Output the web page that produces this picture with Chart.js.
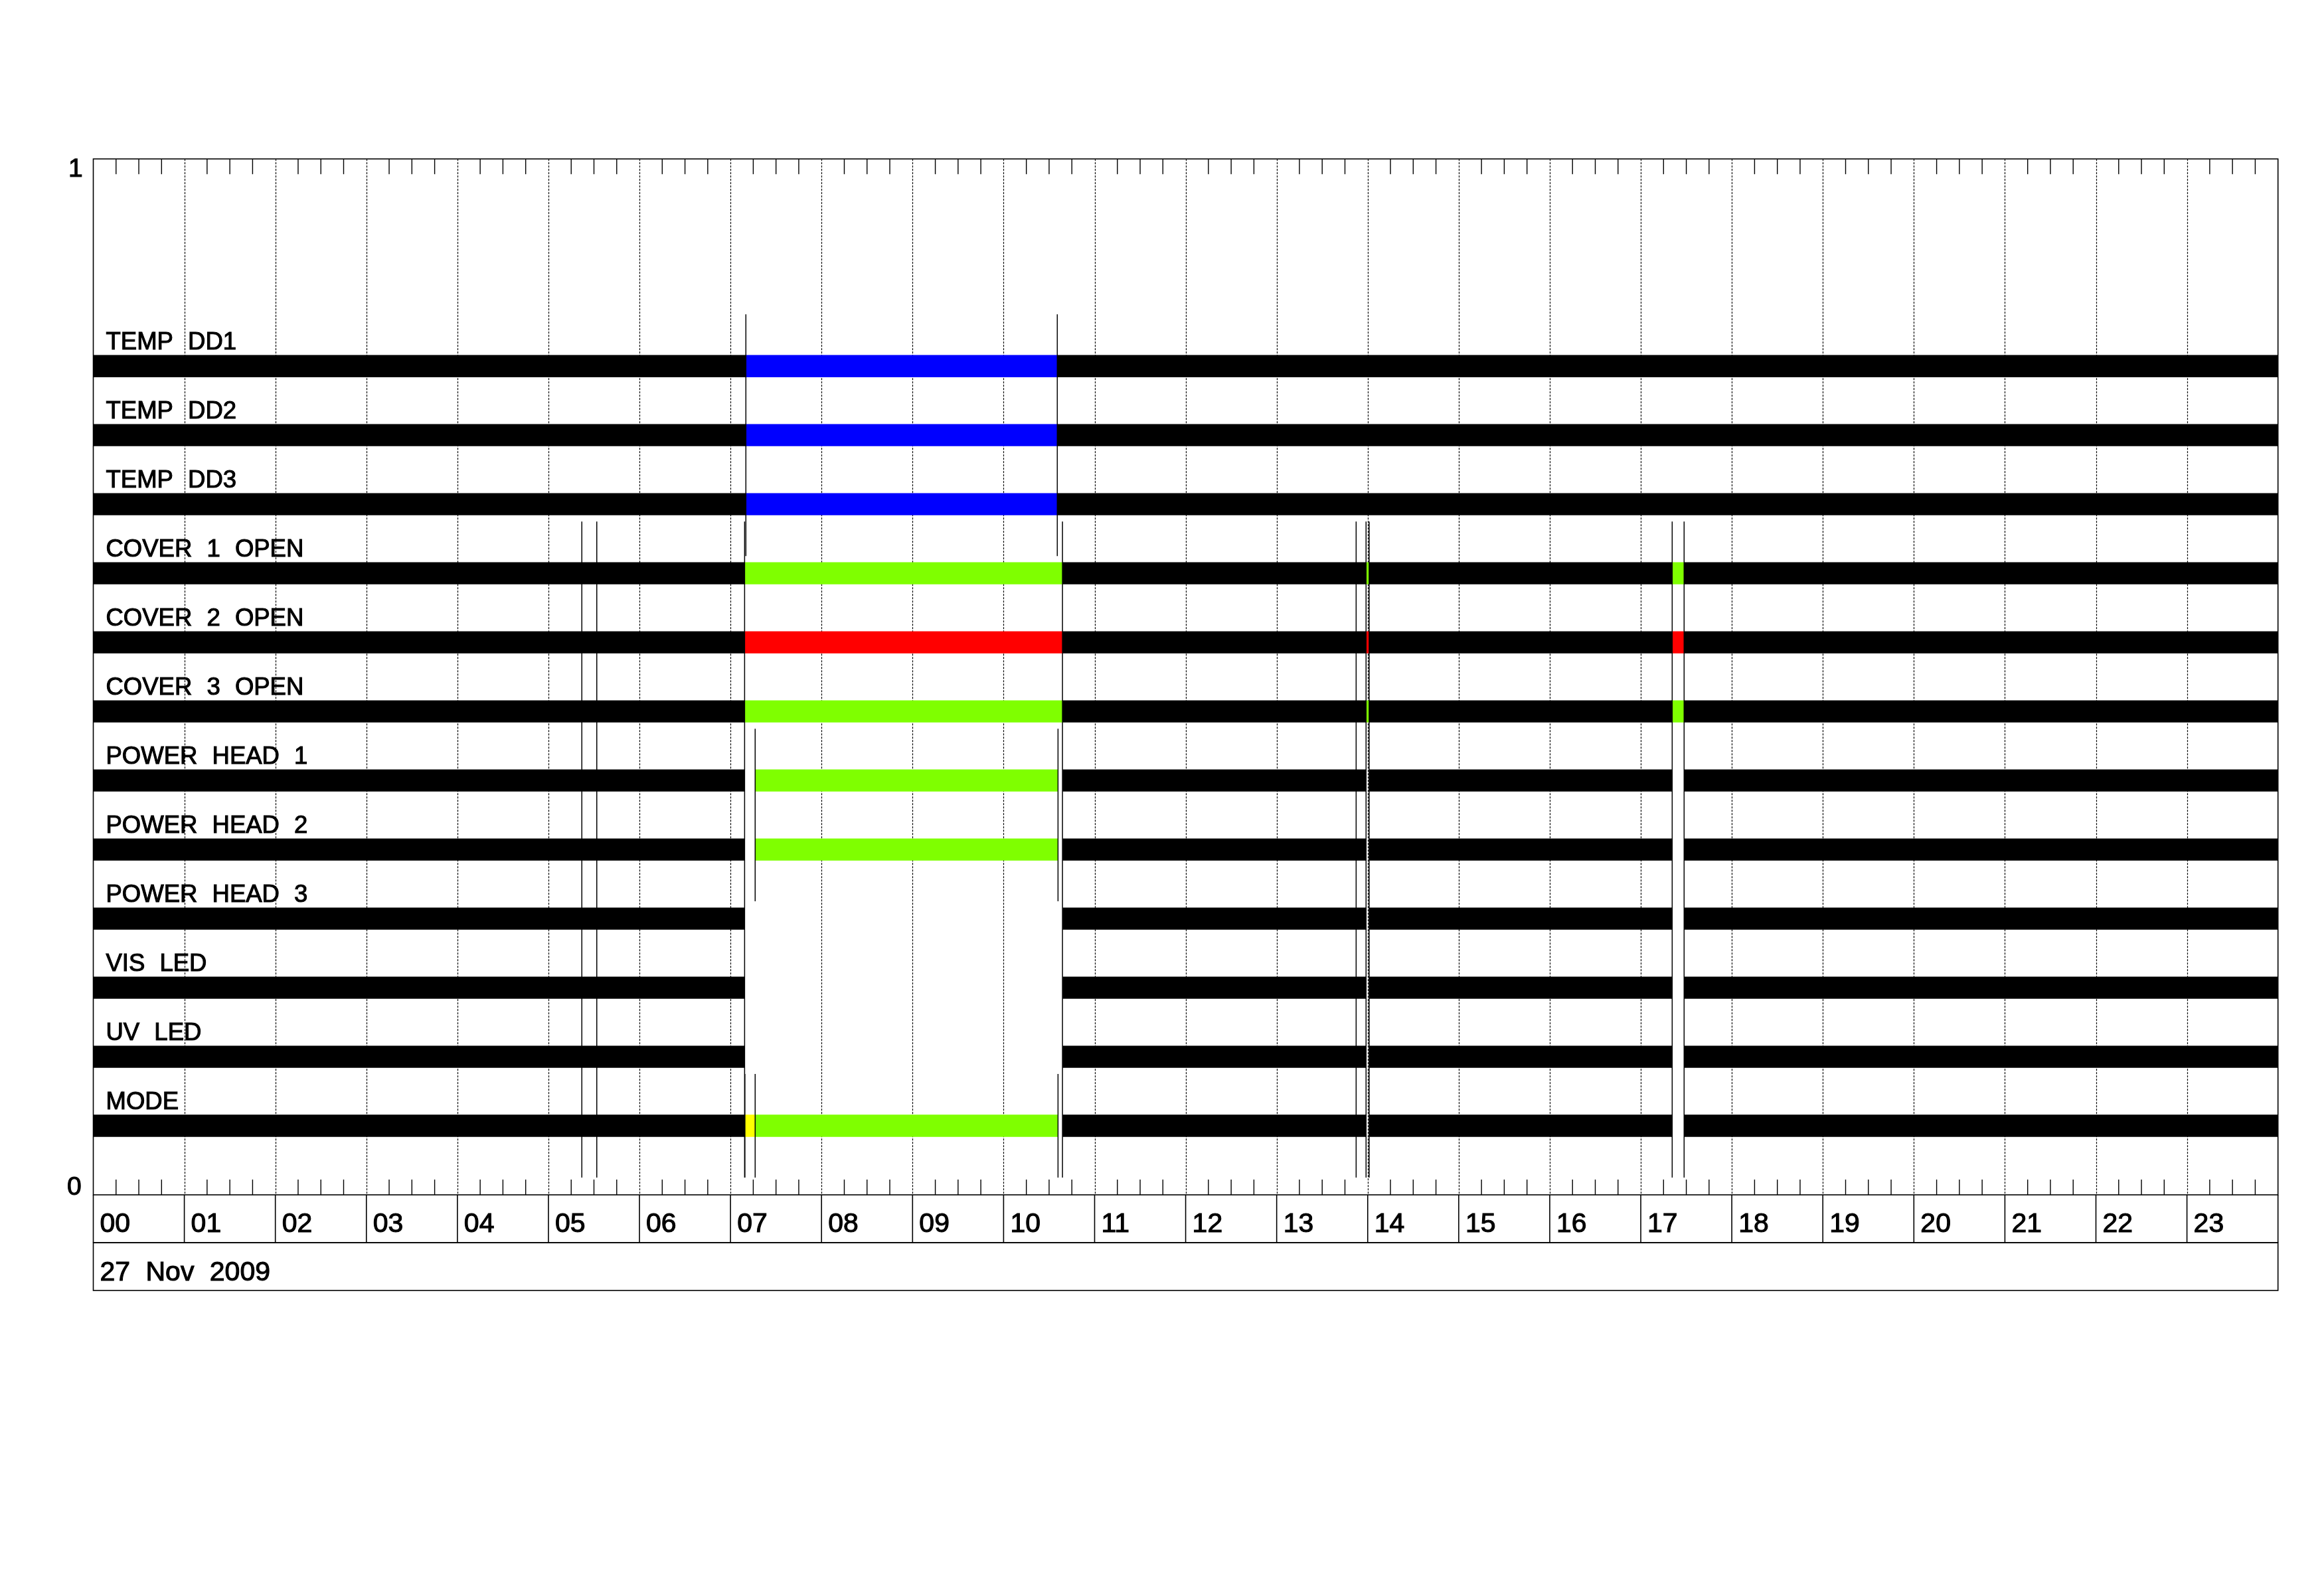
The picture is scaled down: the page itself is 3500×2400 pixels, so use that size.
<!DOCTYPE html>
<html>
<head>
<meta charset="utf-8">
<script src="https://cdn.jsdelivr.net/npm/chart.js@4.4.0/dist/chart.umd.min.js"></script>
<style>
  html, body { margin: 0; padding: 0; background: #fff; }
  canvas { display: block; }
</style>
</head>
<body>
<canvas id="timeline" width="3500" height="2400" style="width:3500px;height:2400px"></canvas>
<script>
// channels, top to bottom
const channels = ['TEMP DD1', 'TEMP DD2', 'TEMP DD3', 'COVER 1 OPEN', 'COVER 2 OPEN', 'COVER 3 OPEN',
  'POWER HEAD 1', 'POWER HEAD 2', 'POWER HEAD 3', 'VIS LED', 'UV LED', 'MODE'];
const hourLabels = ['00', '01', '02', '03', '04', '05', '06', '07', '08', '09', '10', '11',
  '12', '13', '14', '15', '16', '17', '18', '19', '20', '21', '22', '23'];
const dateLabel = '27 Nov 2009';
const yTickLabels = ['0', '1'];

// state segments: [start hour, end hour, state]
const tempSegments = [[0, 7.169, 'off'], [7.169, 10.590, 'cold'], [10.590, 24, 'off']];
const cover1Segments = [[0, 7.155, 'off'], [7.155, 10.647, 'open'], [10.647, 13.982, 'off'], [13.982, 14.016, 'open'],
  [14.016, 17.345, 'off'], [17.345, 17.476, 'open'], [17.476, 24, 'off']];
const cover2Segments = [[0, 7.155, 'off'], [7.155, 10.647, 'alarm'], [10.647, 13.982, 'off'], [13.982, 14.016, 'alarm'],
  [14.016, 17.345, 'off'], [17.345, 17.476, 'alarm'], [17.476, 24, 'off']];
const cover3Segments = [[0, 7.155, 'off'], [7.155, 10.647, 'open'], [10.647, 13.982, 'off'], [13.982, 14.016, 'open'],
  [14.016, 17.345, 'off'], [17.345, 17.476, 'open'], [17.476, 24, 'off']];
const headSegments = [[0, 7.155, 'off'], [7.271, 10.598, 'on'], [10.647, 13.982, 'off'],
  [14.016, 17.345, 'off'], [17.476, 24, 'off']];
const ledSegments = [[0, 7.155, 'off'], [10.647, 13.982, 'off'], [14.016, 17.345, 'off'], [17.476, 24, 'off']];
const modeSegments = [[0, 7.155, 'off'], [7.158, 7.271, 'wait'], [7.271, 10.598, 'on'], [10.647, 13.982, 'off'],
  [14.016, 17.345, 'off'], [17.476, 24, 'off']];

const channelSegments = [tempSegments, tempSegments, tempSegments, cover1Segments, cover2Segments, cover3Segments,
  headSegments, headSegments, ledSegments, ledSegments, ledSegments, modeSegments];

// event marker times (hours) and the channels they span
const tempEvents = [7.169, 10.590];
const coverEvents = [5.367, 5.531, 7.155, 10.647, 13.873, 13.982, 14.016, 17.345, 17.476];
const headEvents = [7.271, 10.598];
const modeEvents = [7.158, 7.271, 10.598];
const eventGroups = [[0, 2, tempEvents], [3, 11, coverEvents], [6, 7, headEvents], [11, 11, modeEvents]];

const stateColors = { off: '#000000', cold: '#0000ff', open: '#7fff00', alarm: '#ff0000', on: '#7fff00', wait: '#ffff00' };
const FONT = '"Liberation Sans", Arial, sans-serif';

// channel i sits at y = (n - i) / 15 on a 0..1 axis
const yOf = i => (channels.length - i) / 15;

const barSets = channelSegments.flatMap((segs, i) => segs.map(([a, b, s]) => ({
  data: [{ x: a, y: yOf(i) }, { x: b, y: yOf(i) }],
  borderColor: stateColors[s],
  borderWidth: 33.3,
  borderCapStyle: 'butt',
  order: 1
})));

const eventSets = eventGroups.map(([first, last, times]) => ({
  data: times.flatMap(t => [{ x: t, y: yOf(first) + 0.05 }, { x: t, y: yOf(last) - 0.05 }, { x: t, y: null }]),
  borderColor: '#000000',
  borderWidth: 1.5,
  spanGaps: false,
  order: 0
}));

// draw words with the wide gaps of the original plot font
function spacedText(ctx, text, x, y, gap) {
  let cx = x;
  text.split(' ').forEach(w => {
    ctx.fillText(w, cx, y);
    ctx.strokeText(w, cx, y);
    cx += ctx.measureText(w + ' ').width + gap;
  });
}

const timelineFrame = {
  id: 'timelineFrame',
  beforeDatasetsDraw(chart) {
    const { ctx, chartArea: a, scales: { x } } = chart;
    ctx.save();
    ctx.strokeStyle = '#000';
    ctx.lineWidth = 1.2;
    ctx.setLineDash([3, 2]);
    for (let h = 1; h < 24; h++) {
      const px = Math.round(x.getPixelForValue(h)) + 0.5;
      ctx.beginPath(); ctx.moveTo(px, a.top); ctx.lineTo(px, a.bottom); ctx.stroke();
    }
    ctx.restore();
  },
  afterDatasetsDraw(chart) {
    const { ctx, chartArea: a, scales: { x, y } } = chart;
    ctx.save();
    ctx.strokeStyle = '#000';
    ctx.fillStyle = '#000';
    ctx.lineWidth = 1.6;
    ctx.strokeRect(a.left, a.top, a.right - a.left, a.bottom - a.top);

    // quarter-hour ticks
    ctx.lineWidth = 1.4;
    for (let h = 0; h < 24; h++) {
      for (let q = 1; q < 4; q++) {
        const px = x.getPixelForValue(h + q / 4);
        ctx.beginPath();
        ctx.moveTo(px, a.top); ctx.lineTo(px, a.top + 23);
        ctx.moveTo(px, a.bottom); ctx.lineTo(px, a.bottom - 23);
        ctx.stroke();
      }
    }

    // text gets a thin outline to match the stroked plot font
    ctx.textAlign = 'left';
    ctx.textBaseline = 'alphabetic';
    ctx.lineWidth = 1.1;
    ctx.font = '39px ' + FONT;
    spacedText(ctx, yTickLabels[1], 103, y.getPixelForValue(1) + 27, 0);
    spacedText(ctx, yTickLabels[0], 101, y.getPixelForValue(0), 0);

    // channel labels
    ctx.font = '36.5px ' + FONT;
    channels.forEach((c, i) => spacedText(ctx, c, a.left + 19, y.getPixelForValue(yOf(i)) - 25, 12));

    // hour boxes
    const rowH = 72;
    ctx.lineWidth = 1.6;
    ctx.beginPath();
    for (let h = 0; h <= 24; h++) {
      const px = x.getPixelForValue(h);
      ctx.moveTo(px, a.bottom); ctx.lineTo(px, a.bottom + rowH);
    }
    ctx.moveTo(a.left, a.bottom + rowH); ctx.lineTo(a.right, a.bottom + rowH);
    ctx.stroke();
    ctx.strokeRect(a.left, a.bottom + rowH, a.right - a.left, rowH);

    ctx.lineWidth = 1.1;
    ctx.font = '41px ' + FONT;
    hourLabels.forEach((lab, h) => spacedText(ctx, lab, x.getPixelForValue(h) + 10, a.bottom + 56, 0));
    spacedText(ctx, dateLabel, a.left + 10, a.bottom + rowH + 57, 12);
    ctx.restore();
  }
};

new Chart(document.getElementById('timeline'), {
  type: 'line',
  data: { datasets: [...eventSets, ...barSets] },
  options: {
    responsive: false,
    animation: false,
    devicePixelRatio: 1,
    layout: { padding: { left: 140.5, right: 69.3, top: 239.3, bottom: 601 } },
    plugins: { legend: { display: false }, tooltip: { enabled: false } },
    elements: { point: { radius: 0 }, line: { tension: 0 } },
    scales: {
      x: { type: 'linear', min: 0, max: 24, display: false },
      y: { type: 'linear', min: 0, max: 1, display: false }
    }
  },
  plugins: [timelineFrame]
});
</script>
</body>
</html>
